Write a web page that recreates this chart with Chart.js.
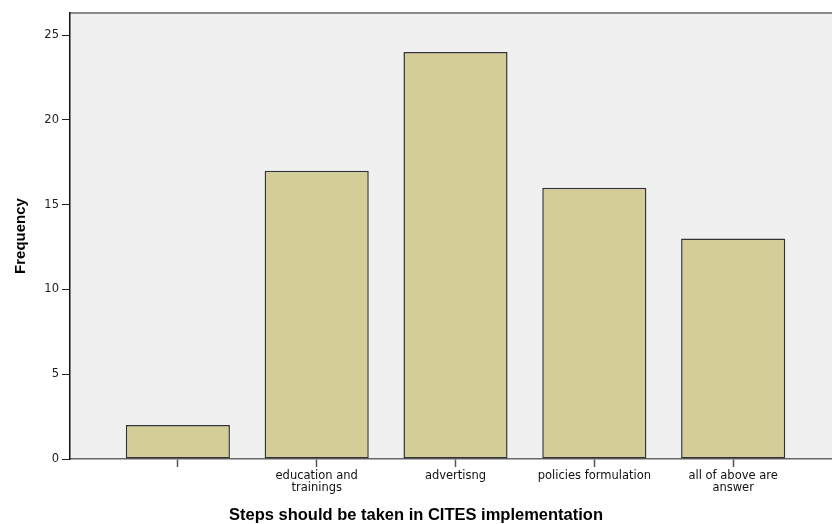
<!DOCTYPE html>
<html>
<head>
<meta charset="utf-8">
<script src="https://cdn.jsdelivr.net/npm/chart.js@4"></script>
<style>
html,body{margin:0;padding:0;background:#fff;}
#wrap{width:832px;height:524px;}
</style>
</head>
<body>
<div id="wrap"><canvas id="c" width="832" height="524"></canvas></div>
<script>
const categories = ['', 'education and trainings', 'advertisng', 'policies formulation', 'all of above are answer'];
const tickLines = [[''], ['education and', 'trainings'], ['advertisng'], ['policies formulation'], ['all of above are', 'answer']];
const frequency = [2, 17, 24, 16, 13];
const yTicks = [0, 5, 10, 15, 20, 25];
const xTitle = 'Steps should be taken in CITES implementation';
const yTitle = 'Frequency';

const bgPlugin = {
  id: 'bg',
  beforeDraw(chart) {
    const {ctx, chartArea: a} = chart;
    ctx.save();
    ctx.fillStyle = '#f0f0f0';
    ctx.fillRect(a.left, a.top, a.right - a.left, a.bottom - a.top);
    ctx.strokeStyle = '#8a8a8a';
    ctx.lineWidth = 2;
    ctx.beginPath();
    ctx.moveTo(a.left, a.top);
    ctx.lineTo(a.right, a.top);
    ctx.stroke();
    ctx.restore();
  },
  afterDraw(chart) {
    const ctx = chart.ctx;
    ctx.save();
    ctx.fillStyle = '#000';
    ctx.font = 'bold 16.5px "Liberation Sans", Arial, sans-serif';
    ctx.textAlign = 'center';
    ctx.textBaseline = 'alphabetic';
    ctx.fillText(xTitle, chart.width / 2, 520);
    ctx.restore();
  }
};

new Chart(document.getElementById('c'), {
  type: 'bar',
  data: {
    datasets: [{
      data: frequency.map((v, i) => ({x: i, y: v})),
      backgroundColor: '#d3ce97',
      borderColor: '#333333',
      borderWidth: 1.5,
      borderSkipped: false,
      categoryPercentage: 1,
      barPercentage: 0.75
    }]
  },
  plugins: [bgPlugin],
  options: {
    responsive: false,
    animation: false,
    layout: {padding: {top: 13, right: 0, left: 0, bottom: 0}},
    plugins: {
      legend: {display: false},
      tooltip: {enabled: false}
    },
    scales: {
      x: {
        type: 'linear',
        offset: false,
        min: -0.777,
        max: 4.712,
        afterBuildTicks(scale) { scale.ticks = categories.map((c, i) => ({value: i})); },
        afterFit(scale) { scale.height = 65; },
        ticks: {
          autoSkip: false,
          maxRotation: 0,
          padding: 3,
          color: '#111',
          font: {family: 'DejaVu Sans, Verdana, sans-serif', size: 11.5, lineHeight: 1.05},
          callback: (v) => tickLines[v] || ''
        },
        grid: {drawOnChartArea: false, offset: false, tickLength: 8, color: '#555', tickWidth: 1.5},
        border: {color: '#666', width: 1.5}
      },
      y: {
        min: 0,
        max: 26.3,
        afterBuildTicks(scale) { scale.ticks = yTicks.map(v => ({value: v})); },
        afterFit(scale) { scale.width = 70; },
        ticks: {
          padding: 3,
          color: '#222',
          font: {family: 'DejaVu Sans, Verdana, sans-serif', size: 11.5}
        },
        grid: {drawOnChartArea: false, tickLength: 8, color: '#222', tickWidth: 1},
        border: {color: '#111', width: 1.5},
        title: {
          display: true,
          text: yTitle,
          color: '#000',
          font: {family: 'Liberation Sans, Arial, sans-serif', size: 15, weight: 'bold'},
          padding: {top: 12, bottom: 0}
        }
      }
    }
  }
});
</script>
</body>
</html>
